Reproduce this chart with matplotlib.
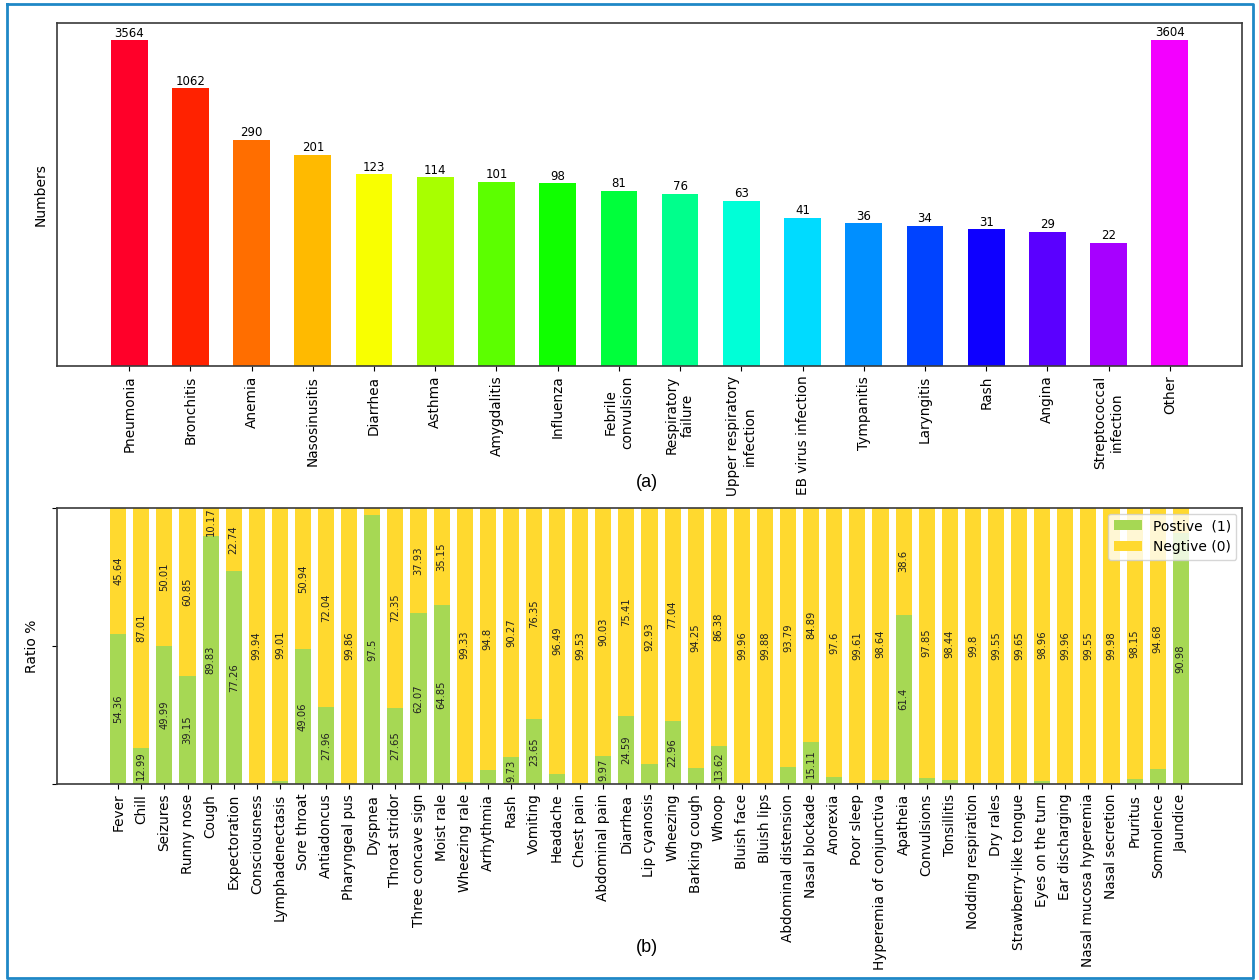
import numpy as np
import matplotlib
matplotlib.use("Agg")
import matplotlib.pyplot as plt
from matplotlib.lines import Line2D

# (a) number of cases per disease
diseases = ["Pneumonia", "Bronchitis", "Anemia", "Nasosinusitis", "Diarrhea",
            "Asthma", "Amygdalitis", "Influenza", "Febrile\nconvulsion",
            "Respiratory\nfailure", "Upper respiratory\ninfection",
            "EB virus infection", "Tympanitis", "Laryngitis", "Rash", "Angina",
            "Streptococcal\ninfection", "Other"]
counts = [3564, 1062, 290, 201, 123, 114, 101, 98, 81, 76, 63, 41, 36, 34,
          31, 29, 22, 3604]

# (b) share of positive / negative records per symptom
symptoms = ["Fever", "Chill", "Seizures", "Runny nose", "Cough", "Expectoration",
            "Consciousness", "Lymphadenectasis", "Sore throat", "Antiadoncus",
            "Pharyngeal pus", "Dyspnea", "Throat stridor", "Three concave sign",
            "Moist rale", "Wheezing rale", "Arrhythmia", "Rash", "Vomiting",
            "Headache", "Chest pain", "Abdominal pain", "Diarrhea",
            "Lip cyanosis", "Wheezing", "Barking cough", "Whoop", "Bluish face",
            "Bluish lips", "Abdominal distension", "Nasal blockade", "Anorexia",
            "Poor sleep", "Hyperemia of conjunctiva", "Apatheia", "Convulsions",
            "Tonsillitis", "Nodding respiration", "Dry rales",
            "Strawberry-like tongue", "Eyes on the turn", "Ear discharging",
            "Nasal mucosa hyperemia", "Nasal secretion", "Pruritus",
            "Somnolence", "Jaundice"]
positive = [54.36, 12.99, 49.99, 39.15, 89.83, 77.26, 0.06, 0.99, 49.06, 27.96,
            0.14, 97.5, 27.65, 62.07, 64.85, 0.67, 5.2, 9.73, 23.65, 3.51,
            0.47, 9.97, 24.59, 7.07, 22.96, 5.75, 13.62, 0.04, 0.12, 6.21,
            15.11, 2.4, 0.39, 1.36, 61.4, 2.15, 1.56, 0.2, 0.45, 0.35, 1.04,
            0.04, 0.45, 0.02, 1.85, 5.32, 90.98]
negative = [45.64, 87.01, 50.01, 60.85, 10.17, 22.74, 99.94, 99.01, 50.94, 72.04,
            99.86, 2.5, 72.35, 37.93, 35.15, 99.33, 94.8, 90.27, 76.35, 96.49,
            99.53, 90.03, 75.41, 92.93, 77.04, 94.25, 86.38, 99.96, 99.88, 93.79,
            84.89, 97.6, 99.61, 98.64, 38.6, 97.85, 98.44, 99.8, 99.55, 99.65,
            98.96, 99.96, 99.55, 99.98, 98.15, 94.68, 9.02]

W, H = 1259, 980
fig = plt.figure(figsize=(W / 100, H / 100), dpi=100)

spine_col = "#3a3a3a"

# ---- top: counts on a log axis ----
ax1 = fig.add_axes([57 / W, 1 - 366 / H, (1242 - 57) / W, (366 - 23) / H])
x1 = np.arange(len(diseases))
colors = plt.cm.gist_rainbow(np.arange(len(diseases)) / len(diseases))
bars = ax1.bar(x1, counts, width=0.6, color=colors)
ax1.set_yscale("log")
ax1.set_ylim(1, 10 ** 3.74)
ax1.set_xlim(-1.18, len(diseases) - 1 + 1.18)
ax1.bar_label(bars, labels=[str(c) for c in counts], fontsize=8.5, padding=0.5)
ax1.set_xticks(x1)
ax1.set_xticklabels(diseases, rotation=90, fontsize=9.8)
ax1.tick_params(axis="y", which="both", left=False, labelleft=False)
ax1.set_ylabel("Numbers", fontsize=10)
ax1.yaxis.set_label_coords(-0.0076, 0.5)
for s in ax1.spines.values():
    s.set_color(spine_col)
    s.set_linewidth(1.2)

# ---- bottom: stacked positive / negative percentages ----
ax2 = fig.add_axes([57 / W, 1 - 784 / H, (1242 - 57) / W, (784 - 508) / H])
x2 = np.arange(len(symptoms))
green, yellow = "#a6d854", "#ffd92f"
ax2.bar(x2, positive, width=0.7, color=green, label="Postive  (1)")
ax2.bar(x2, negative, width=0.7, bottom=positive, color=yellow, label="Negtive (0)")
for i in range(len(symptoms)):
    if positive[i] > 9.5:
        ax2.text(x2[i], positive[i] / 2, f"{positive[i]:g}", rotation=90,
                 ha="center", va="center", fontsize=7.2, color="#222222")
    if negative[i] > 9.5:
        ax2.text(x2[i], positive[i] + negative[i] / 2, f"{negative[i]:g}",
                 rotation=90, ha="center", va="center", fontsize=7.2,
                 color="#222222")
ax2.set_ylim(0, 100)
ax2.set_xlim(-2.65, len(symptoms) - 1 + 2.65)
ax2.set_yticks([0, 50, 100])
ax2.set_yticklabels([])
ax2.set_xticks(x2)
ax2.set_xticklabels(symptoms, rotation=90, fontsize=9.8)
ax2.set_ylabel("Ratio %", fontsize=10)
ax2.yaxis.set_label_coords(-0.0152, 0.5)
ax2.legend(loc="upper right", fontsize=10, borderaxespad=0.4)
for s in ax2.spines.values():
    s.set_color(spine_col)
    s.set_linewidth(1.2)

# panel captions
fig.text(647 / W, 1 - 482 / H, "(a)", ha="center", va="center", fontsize=13,
         family="Liberation Sans")
fig.text(647 / W, 1 - 947 / H, "(b)", ha="center", va="center", fontsize=13,
         family="Liberation Sans")

# outer frame
fx = [7 / W, 1253 / W, 1253 / W, 7 / W, 7 / W]
fy = [1 - 4 / H, 1 - 4 / H, 1 - 978 / H, 1 - 978 / H, 1 - 4 / H]
fig.add_artist(Line2D(fx, fy, transform=fig.transFigure, color="#1f88c6", lw=2))

fig.savefig("out.png", dpi=100)
